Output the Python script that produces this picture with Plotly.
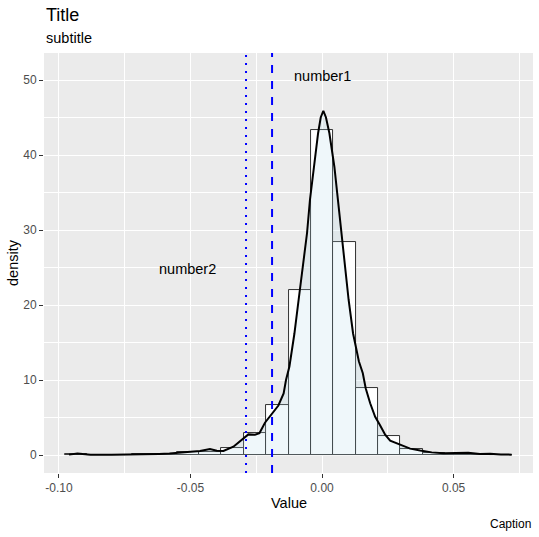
import plotly.graph_objects as go

# histogram (density scale), bin width 0.0085 centred on 0
bin_width = 0.0085
bin_centers = [k * bin_width for k in range(-11, 9)]
bin_heights = [0.12, 0.0, 0.0, 0.12, 0.12, 0.35, 0.45, 0.9, 3.0, 6.67,
               22.0, 43.4, 28.4, 8.9, 2.6, 0.85, 0.25, 0.15, 0.1, 0.05]

# kernel density curve
dens_x = [-0.0962, -0.0945, -0.093, -0.091, -0.088, -0.080, -0.072, -0.066,
          -0.062, -0.058, -0.054, -0.050, -0.0464, -0.0426, -0.040, -0.0375,
          -0.0337, -0.0305, -0.028, -0.0255, -0.0238, -0.0217, -0.0198,
          -0.0179, -0.0166, -0.0146, -0.0137, -0.0124, -0.0105, -0.0089,
          -0.0072, -0.0057, -0.0046, -0.0032, -0.0015, -0.0005, 0.0005,
          0.0015, 0.0028, 0.0047, 0.006, 0.0072, 0.0086, 0.0101, 0.0118,
          0.014, 0.0155, 0.0166, 0.0183, 0.0202, 0.022, 0.024, 0.0259,
          0.0297, 0.0335, 0.0373, 0.0417, 0.0461, 0.050, 0.0556, 0.060,
          0.0639, 0.068, 0.0721]
dens_y = [0.05, 0.15, 0.2, 0.12, 0.05, 0.05, 0.06, 0.1,
          0.15, 0.2, 0.35, 0.45, 0.53, 0.8, 0.58, 0.53,
          1.1, 2.0, 2.75, 2.7, 2.9, 4.3, 5.1,
          6.0, 6.6, 8.2, 10.0, 11.8, 16.2, 20.7,
          25.1, 29.6, 34.0, 38.4, 42.9, 45.0, 45.9,
          45.0, 42.9, 38.4, 34.0, 29.6, 25.1, 20.7, 16.2,
          12.5, 10.9, 8.9, 6.9, 5.1, 4.0, 2.7, 1.9,
          1.33, 0.85, 0.6, 0.35, 0.22, 0.25, 0.3, 0.13,
          0.18, 0.08, 0.05]

vline_x = [-0.019, -0.0289]
vline_dash = ["8px,8px", "2px,6px"]

labels = ["number1", "number2"]
label_x = [0.0, -0.051]
label_y = [50.6, 24.8]

x_ticks = [-0.10, -0.05, 0.00, 0.05]
y_ticks = [0, 10, 20, 30, 40, 50]

FONT = "Liberation Sans, Arial, sans-serif"

# panel in pixels (539 x 537 page)
L, R, T, B = 44, 533, 53, 473
W, H = 539, 537


def px_x(p):
    return (p - L) / (R - L)


def px_y(p):
    return (B - p) / (B - T)


fig = go.Figure()

fig.add_trace(go.Bar(
    x=bin_centers,
    y=bin_heights,
    width=bin_width,
    marker=dict(color="white", line=dict(color="#1a1a1a", width=0.9)),
    hoverinfo="skip",
))

fig.add_trace(go.Scatter(
    x=dens_x,
    y=dens_y,
    mode="lines",
    line=dict(color="black", width=2),
    fill="tozeroy",
    fillcolor="rgba(173,216,230,0.2)",
    hoverinfo="skip",
))

for xv, dash in zip(vline_x, vline_dash):
    fig.add_shape(
        type="line", xref="x", yref="paper",
        x0=xv, x1=xv, y0=0, y1=1,
        line=dict(color="#0000FF", width=2, dash=dash),
        layer="above",
    )

annotations = []
for txt, xv, yv in zip(labels, label_x, label_y):
    annotations.append(dict(
        text=txt, x=xv, y=yv, xref="x", yref="y",
        showarrow=False, font=dict(size=14.5, color="black", family=FONT),
    ))

annotations += [
    dict(text="Title", x=px_x(44), y=px_y(15), xref="paper", yref="paper",
         xanchor="left", yanchor="middle", showarrow=False,
         font=dict(size=18, color="black", family=FONT)),
    dict(text="subtitle", x=px_x(44), y=px_y(38), xref="paper", yref="paper",
         xanchor="left", yanchor="middle", showarrow=False,
         font=dict(size=14.5, color="black", family=FONT)),
    dict(text="Caption", x=px_x(533), y=px_y(524), xref="paper", yref="paper",
         xanchor="right", yanchor="middle", showarrow=False,
         font=dict(size=12, color="black", family=FONT)),
    dict(text="Value", x=0.5, y=px_y(503), xref="paper", yref="paper",
         xanchor="center", yanchor="middle", showarrow=False,
         font=dict(size=14.5, color="black", family=FONT)),
    dict(text="density", x=px_x(13), y=0.5, xref="paper", yref="paper",
         xanchor="center", yanchor="middle", showarrow=False, textangle=-90,
         font=dict(size=14.5, color="black", family=FONT)),
]

fig.update_layout(
    width=W,
    height=H,
    margin=dict(l=L, r=W - R, t=T, b=H - B, pad=0),
    paper_bgcolor="white",
    plot_bgcolor="#EBEBEB",
    showlegend=False,
    bargap=0,
    annotations=annotations,
    font=dict(family=FONT),
)

fig.update_xaxes(
    range=[-0.1057, 0.0802],
    tickvals=x_ticks,
    ticktext=["-0.10", "-0.05", "0.00", "0.05"],
    ticks="outside", ticklen=4, tickcolor="#333333", tickwidth=1,
    tickfont=dict(size=12, color="#4D4D4D", family=FONT),
    showgrid=True, gridcolor="white", gridwidth=1.1,
    minor=dict(dtick=0.025, tick0=0.025, showgrid=True,
               gridcolor="white", gridwidth=0.55),
    zeroline=False, showline=False,
)

fig.update_yaxes(
    range=[-2.4, 53.6],
    tickvals=y_ticks,
    ticks="outside", ticklen=4, tickcolor="#333333", tickwidth=1,
    tickfont=dict(size=12, color="#4D4D4D", family=FONT),
    showgrid=True, gridcolor="white", gridwidth=1.1,
    minor=dict(dtick=5, tick0=5, showgrid=True,
               gridcolor="white", gridwidth=0.55),
    zeroline=False, showline=False,
)

fig.write_html(
    "out.html",
    config={"displayModeBar": False},
    post_script="document.body.style.margin='0';"
                "document.body.style.overflow='hidden';",
)
